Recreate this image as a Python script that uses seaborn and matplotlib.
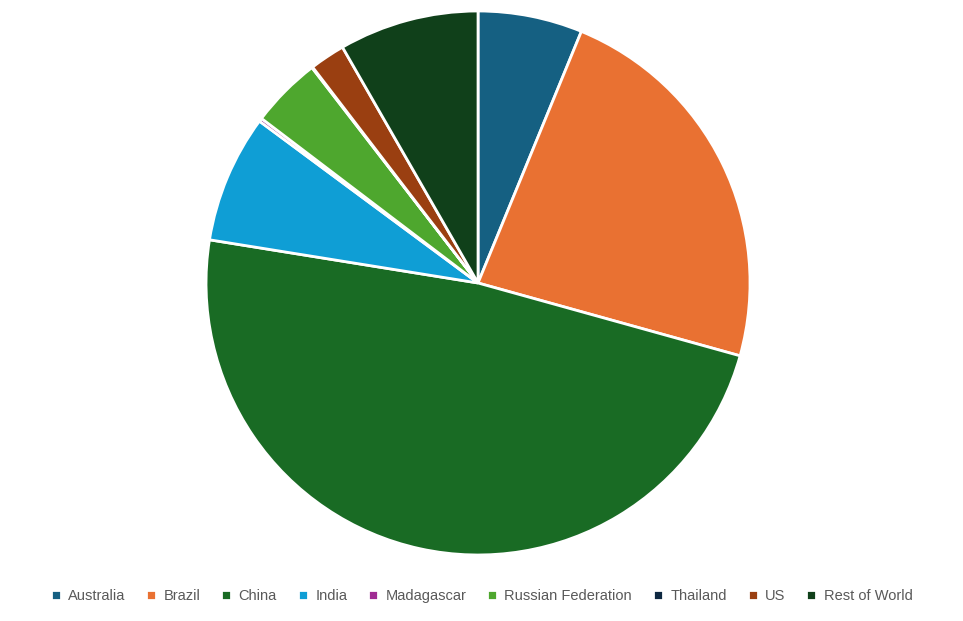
import matplotlib
matplotlib.use("Agg")
import matplotlib.pyplot as plt
import seaborn as sns

# shares (%)
countries = ["Australia", "Brazil", "China", "India", "Madagascar",
             "Russian Federation", "Thailand", "US", "Rest of World"]
shares = [6.2, 23.1, 48.2, 7.6, 0.2, 4.2, 0.05, 2.1, 8.3]
colors = ["#156082", "#E97132", "#196B24", "#0F9ED5", "#A02B93",
          "#4EA72E", "#0E2841", "#9A3F11", "#10401A"]

sns.set_theme(style="white")
plt.rcParams["font.family"] = ["Liberation Sans", "DejaVu Sans"]
palette = sns.color_palette(colors)

fig = plt.figure(figsize=(9.63, 6.21), dpi=100)
ax = fig.add_axes([0.2139, 0.1063, 0.565, 0.876])
wedges, _ = ax.pie(shares, colors=palette, startangle=90, counterclock=False,
                   wedgeprops=dict(edgecolor="white", linewidth=2))
ax.set_xlim(-1, 1)
ax.set_ylim(-1, 1)
ax.set_aspect("equal")

fig.legend(wedges, countries, loc="center", bbox_to_anchor=(0.5, 1 - 596 / 621),
           ncol=len(countries), frameon=False, fontsize=10.5,
           handlelength=0.7, handleheight=0.7, handletextpad=0.5,
           columnspacing=1.42, labelcolor="#595959")

fig.savefig("out.png", dpi=100)
